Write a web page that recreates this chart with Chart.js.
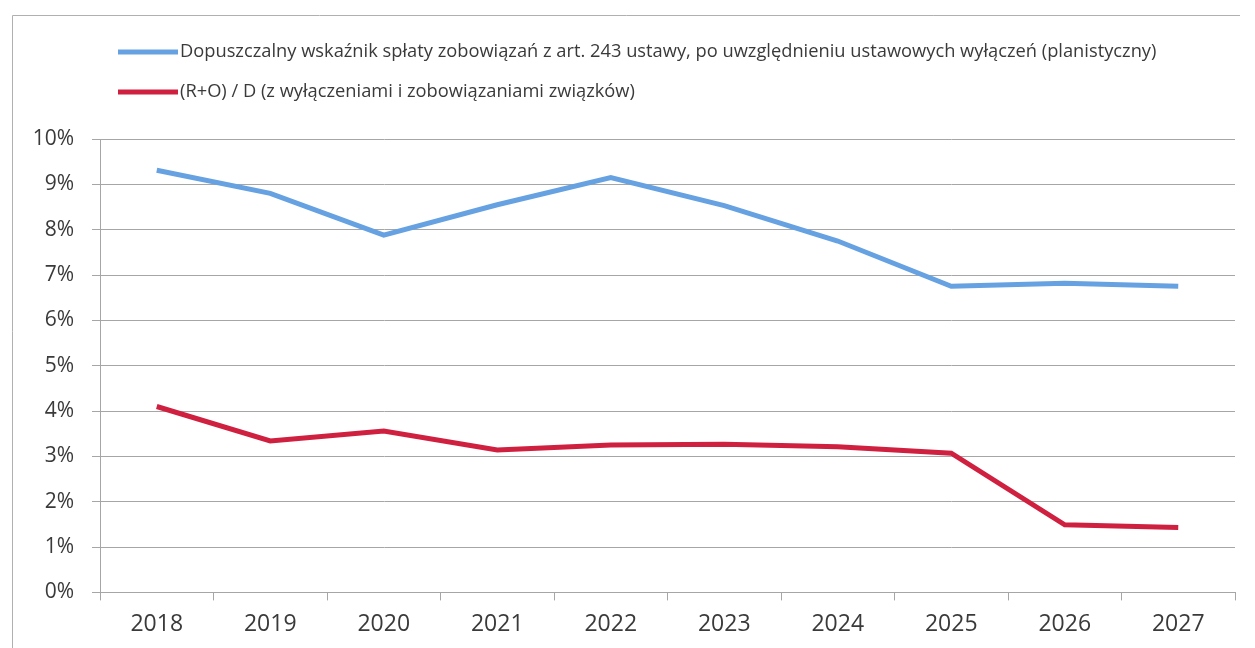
<!DOCTYPE html>
<html>
<head>
<meta charset="utf-8">
<script src="https://cdn.jsdelivr.net/npm/chart.js@4"></script>
<style>
  html, body { margin: 0; padding: 0; background: #fff; }
  #wrap { width: 1255px; height: 648px; position: relative; }
</style>
</head>
<body>
<div id="wrap"><canvas id="myChart"></canvas></div>
<script>
// data
const years = ["2018", "2019", "2020", "2021", "2022", "2023", "2024", "2025", "2026", "2027"];
const limitVals = [9.31, 8.80, 7.88, 8.55, 9.15, 8.53, 7.75, 6.75, 6.82, 6.75];
const ratioVals = [4.10, 3.34, 3.56, 3.14, 3.25, 3.27, 3.21, 3.07, 1.49, 1.43];
const labelLimit = "Dopuszczalny wskaźnik spłaty zobowiązań z art. 243 ustawy, po uwzględnieniu ustawowych wyłączeń (planistyczny)";
const labelRatio = "(R+O) / D (z wyłączeniami i zobowiązaniami związków)";

const BLUE = "#66a1e2";
const RED = "#cf2040";
const GRID = "#a6a6a6";
const TEXT = "#3a3a3a";
const FONT = "'Open Sans', sans-serif";

// legend drawn stacked, like the original
const stackedLegend = {
  id: "stackedLegend",
  afterDraw(chart) {
    const ctx = chart.ctx;
    const rows = [52, 92];
    ctx.save();
    // light frame
    ctx.strokeStyle = "#b0b0b0";
    ctx.lineWidth = 1;
    ctx.beginPath();
    ctx.moveTo(12.5, 648);
    ctx.lineTo(12.5, 15.5);
    ctx.lineTo(1240, 15.5);
    ctx.stroke();

    chart.data.datasets.forEach((ds, i) => {
      const y = rows[i];
      ctx.strokeStyle = ds.borderColor;
      ctx.lineWidth = 5;
      ctx.beginPath();
      ctx.moveTo(118, y);
      ctx.lineTo(178, y);
      ctx.stroke();
      ctx.fillStyle = TEXT;
      ctx.font = "18.3px " + FONT;
      ctx.textBaseline = "middle";
      ctx.textAlign = "left";
      ctx.fillText(ds.label, 180, y);
    });
    ctx.restore();
  }
};

const chart = new Chart(document.getElementById("myChart"), {
  type: "line",
  data: {
    labels: years,
    datasets: [{
      label: labelLimit,
      data: limitVals,
      borderColor: BLUE,
      backgroundColor: BLUE,
      borderWidth: 5,
      pointRadius: 0,
      tension: 0
    }, {
      label: labelRatio,
      data: ratioVals,
      borderColor: RED,
      backgroundColor: RED,
      borderWidth: 5,
      pointRadius: 0,
      tension: 0
    }]
  },
  options: {
    responsive: true,
    maintainAspectRatio: false,
    animation: false,
    layout: {
      padding: { left: 0, right: 20, top: 139, bottom: 0 }
    },
    plugins: {
      legend: { display: false },
      tooltip: { enabled: false }
    },
    scales: {
      x: {
        offset: true,
        grid: {
          offset: true,
          drawOnChartArea: false,
          drawTicks: true,
          tickLength: 8,
          color: GRID
        },
        border: { color: GRID },
        ticks: {
          color: TEXT,
          padding: 10,
          font: { family: FONT, size: 23 }
        }
      },
      y: {
        min: 0,
        max: 10,
        afterFit(scale) { scale.width = 100; },
        grid: {
          color: GRID,
          tickLength: 8
        },
        border: { color: GRID },
        ticks: {
          stepSize: 1,
          color: TEXT,
          padding: 18,
          font: { family: FONT, size: 21 },
          callback: (v) => v + "%"
        }
      }
    }
  },
  plugins: [stackedLegend]
});
</script>
</body>
</html>
